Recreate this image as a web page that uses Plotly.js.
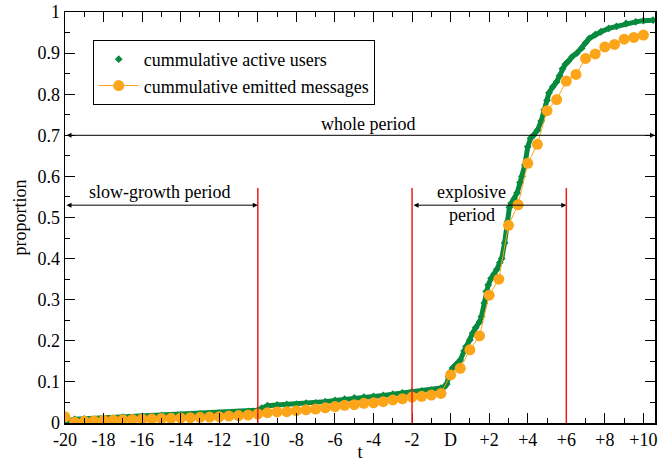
<!DOCTYPE html>
<html>
<head>
<meta charset="utf-8">
<script src="https://cdn.plot.ly/plotly-3.0.1.min.js"></script>
<style>html,body{margin:0;padding:0;background:#fff;}#chart{width:670px;height:462px;}</style>
</head>
<body>
<div id="chart"></div>
<script>
// Cumulative active users (dense curve)
const usersT = [-20,-19.8,-19.5,-19,-18,-17,-16,-15,-14,-13,-12,-11,-10.5,-10,-9.8,-9.5,-9,-8.5,-8,-7.5,-7,-6.5,-6,-5.5,-5,-4.5,-4,-3.5,-3,-2.5,-2,-1.5,-1,-0.5,-0.3,-0.2,-0.1,0,0.1,0.3,0.5,0.7,0.8,1.0,1.15,1.3,1.5,1.6,1.75,1.85,1.95,2.1,2.25,2.4,2.55,2.65,2.8,2.95,3.05,3.15,3.3,3.45,3.6,3.7,3.85,4.0,4.15,4.3,4.5,4.7,4.85,5.0,5.1,5.3,5.5,5.65,5.8,5.95,6.1,6.3,6.55,6.8,7.0,7.2,7.5,7.8,8.2,8.6,9.1,9.6,10.0,10.5];
const usersV = [0.000,0.006,0.009,0.010,0.012,0.014,0.016,0.018,0.020,0.022,0.024,0.026,0.028,0.031,0.036,0.042,0.044,0.045,0.046,0.048,0.049,0.052,0.055,0.058,0.061,0.063,0.065,0.067,0.070,0.073,0.076,0.078,0.080,0.085,0.089,0.095,0.112,0.125,0.134,0.143,0.153,0.175,0.186,0.202,0.219,0.232,0.246,0.259,0.292,0.320,0.336,0.352,0.362,0.374,0.390,0.400,0.438,0.490,0.525,0.535,0.545,0.560,0.585,0.600,0.628,0.672,0.693,0.700,0.712,0.735,0.762,0.785,0.803,0.818,0.830,0.845,0.862,0.873,0.880,0.891,0.900,0.912,0.925,0.936,0.945,0.952,0.960,0.965,0.972,0.976,0.979,0.980];

// Cumulative emitted messages (every half unit)
const msgT = [-20,-19.5,-19,-18.5,-18,-17.5,-17,-16.5,-16,-15.5,-15,-14.5,-14,-13.5,-13,-12.5,-12,-11.5,-11,-10.5,-10,-9.5,-9,-8.5,-8,-7.5,-7,-6.5,-6,-5.5,-5,-4.5,-4,-3.5,-3,-2.5,-2,-1.5,-1,-0.5,0,0.5,1,1.5,2,2.5,3,3.5,4,4.5,5,5.5,6,6.5,7,7.5,8,8.5,9,9.5,10];
const msgV = [0.015,0.002,0.004,0.005,0.0065,0.007,0.008,0.0088,0.0095,0.010,0.011,0.0115,0.012,0.013,0.0138,0.0145,0.0154,0.017,0.018,0.0195,0.022,0.025,0.027,0.0275,0.030,0.032,0.034,0.037,0.040,0.043,0.0445,0.048,0.049,0.052,0.056,0.059,0.063,0.065,0.068,0.072,0.117,0.133,0.178,0.212,0.311,0.350,0.481,0.531,0.632,0.678,0.760,0.787,0.832,0.848,0.887,0.898,0.915,0.921,0.934,0.938,0.944];

const xTickVals = [-20,-18,-16,-14,-12,-10,-8,-6,-4,-2,0,2,4,6,8,10];
const xTickText = ['-20','-18','-16','-14','-12','-10','-8','-6','-4','-2','D','+2','+4','+6','+8','+10'];
const xMinorVals = [-19,-17,-15,-13,-11,-9,-7,-5,-3,-1,1,3,5,7,9];
const yTickVals = [0,0.1,0.2,0.3,0.4,0.5,0.6,0.7,0.8,0.9,1];
const yTickText = ['0','0.1','0.2','0.3','0.4','0.5','0.6','0.7','0.8','0.9','1'];
const yMinorVals = [0.05,0.15,0.25,0.35,0.45,0.55,0.65,0.75,0.85,0.95];

const periodBounds = [-10, -2, 6];

const GREEN = 'rgb(8,138,62)';
const ORANGE = 'rgb(252,165,25)';
const FONT = 'Liberation Serif, Times New Roman, serif';

const traces = [
  {x: usersT, y: usersV, mode: 'lines', line: {color: GREEN, width: 5}, showlegend: false, hoverinfo: 'skip'},
  {x: usersT, y: usersV, mode: 'markers', name: 'cummulative active users',
   marker: {symbol: 'diamond', size: 6, color: GREEN}},
  {x: msgT, y: msgV, mode: 'lines+markers', name: 'cummulative emitted messages',
   line: {color: ORANGE, width: 1}, marker: {symbol: 'circle', size: 11, color: ORANGE}}
];

const shapes = periodBounds.map(t => ({
  type: 'line', xref: 'x', yref: 'y', x0: t, x1: t, y0: 0, y1: 0.572,
  line: {color: 'rgb(235,30,30)', width: 1.5}
}));

function dblArrow(x0, x1, y) {
  return {
    x: x1, y: y, ax: x0, ay: y, xref: 'x', yref: 'y', axref: 'x', ayref: 'y',
    text: '', showarrow: true, arrowside: 'end+start', arrowhead: 2,
    arrowsize: 1, arrowwidth: 1, arrowcolor: '#000', standoff: 0, startstandoff: 0
  };
}
function label(x, y, text) {
  return {x: x, y: y, xref: 'x', yref: 'y', text: text, showarrow: false,
    font: {family: FONT, size: 18, color: '#000'}};
}

const annotations = [
  dblArrow(-20, 10.6, 0.70),
  dblArrow(-20, -10, 0.53),
  dblArrow(-2, 6, 0.53),
  label(-4.3, 0.727, 'whole period'),
  label(-15.1, 0.562, 'slow-growth period'),
  label(1.1, 0.562, 'explosive'),
  label(1.1, 0.506, 'period')
];

const axisCommon = {
  showline: true, linecolor: '#000', linewidth: 1.5, mirror: 'allticks',
  ticks: 'inside', ticklen: 10, tickwidth: 1, tickcolor: '#000',
  showgrid: false, zeroline: false,
  tickfont: {family: FONT, size: 18, color: '#000'}
};

const layout = {
  width: 670, height: 462,
  margin: {l: 65, r: 15, t: 12, b: 39},
  paper_bgcolor: '#fff', plot_bgcolor: '#fff',
  font: {family: FONT, color: '#000'},
  xaxis: Object.assign({}, axisCommon, {
    range: [-20, 10.6], tickmode: 'array', tickvals: xTickVals, ticktext: xTickText,
    minor: {tickmode: 'array', tickvals: xMinorVals, ticks: 'inside', ticklen: 5, tickcolor: '#000', showgrid: false},
    title: {text: 't', font: {family: FONT, size: 18}, standoff: 0}
  }),
  yaxis: Object.assign({}, axisCommon, {
    range: [0, 1], tickmode: 'array', tickvals: yTickVals, ticktext: yTickText,
    minor: {tickmode: 'array', tickvals: yMinorVals, ticks: 'inside', ticklen: 5, tickcolor: '#000', showgrid: false},
    title: {text: 'proportion', font: {family: FONT, size: 18}, standoff: 6}
  }),
  legend: {
    x: 0.047, y: 0.932, xanchor: 'left', yanchor: 'top',
    bordercolor: '#000', borderwidth: 1, bgcolor: '#fff',
    font: {family: FONT, size: 18, color: '#000'},
    tracegroupgap: 0, itemwidth: 40
  },
  shapes: shapes,
  annotations: annotations,
  showlegend: true
};

Plotly.newPlot('chart', traces, layout, {displayModeBar: false, staticPlot: true});
</script>
</body>
</html>
